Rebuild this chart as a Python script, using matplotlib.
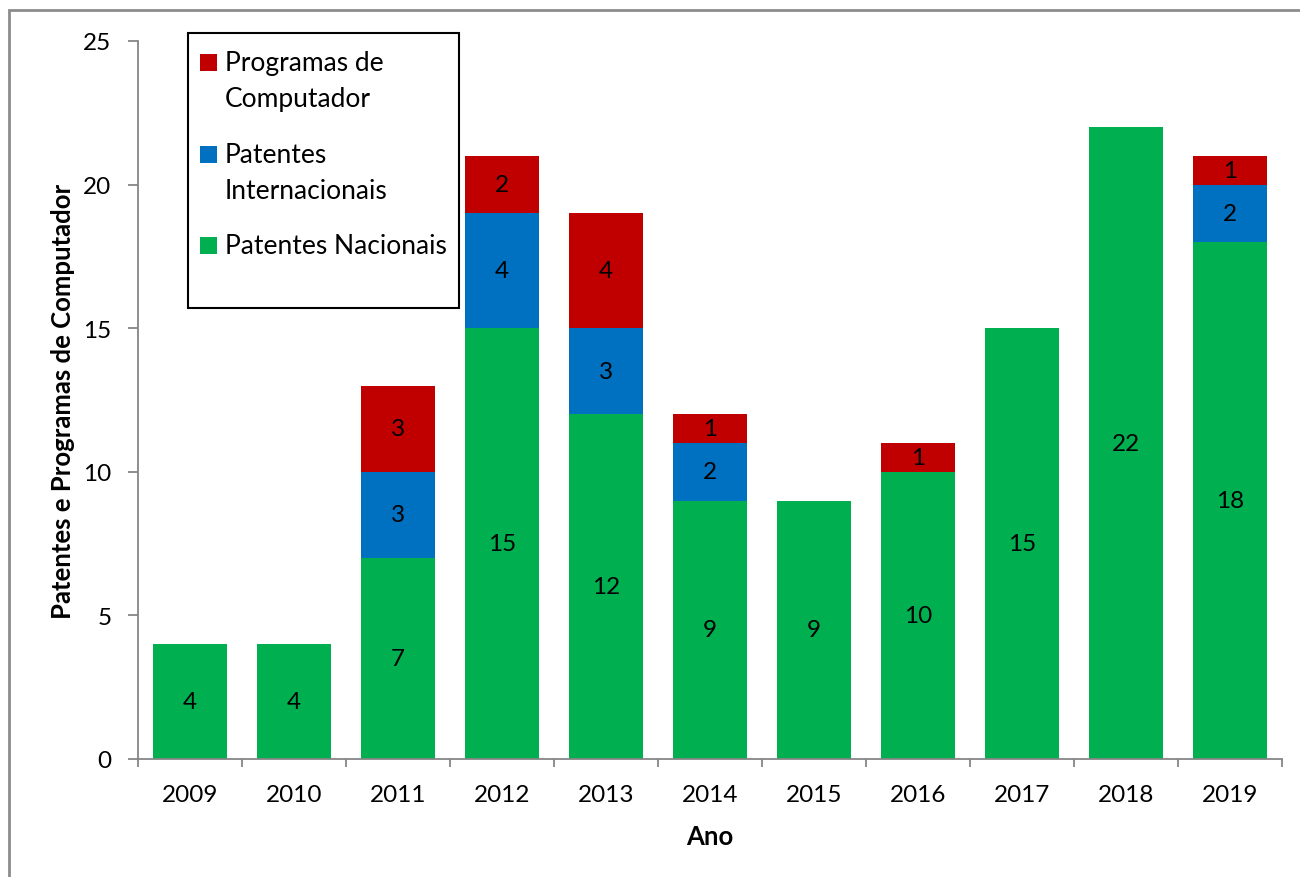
import matplotlib
matplotlib.use("Agg")
import matplotlib.pyplot as plt
from matplotlib.patches import Rectangle
import numpy as np

plt.rcParams['font.family'] = ['Lato', 'DejaVu Sans']

anos = ['2009', '2010', '2011', '2012', '2013', '2014', '2015', '2016', '2017', '2018', '2019']
nacionais = [4, 4, 7, 15, 12, 9, 9, 10, 15, 22, 18]
internacionais = [0, 0, 3, 4, 3, 2, 0, 0, 0, 0, 2]
programas = [0, 0, 3, 2, 4, 1, 0, 1, 0, 0, 1]

series = [
    ('Patentes Nacionais', nacionais, '#00B050'),
    ('Patentes\nInternacionais', internacionais, '#0070C0'),
    ('Programas de\nComputador', programas, '#C00000'),
]

W, H = 1300, 878
fig = plt.figure(figsize=(13, 8.78), dpi=100)
ax = fig.add_axes([138 / W, 1 - 760 / H, 1144 / W, 718 / H])

x = np.arange(len(anos))
bottom = np.zeros(len(anos))
for nome, vals, cor in series:
    vals = np.array(vals, dtype=float)
    ax.bar(x, vals, width=0.72, bottom=bottom, color=cor, linewidth=0)
    for xi, b, v in zip(x, bottom, vals):
        if v > 0:
            ax.text(xi, b + v / 2, f'{int(v)}', ha='center', va='center',
                    fontsize=17.5, color='black')
    bottom += vals

gray = '#868686'
ax.set_xlim(-0.5, len(anos) - 0.5)
ax.set_ylim(0, 25)
ax.set_yticks([0, 5, 10, 15, 20, 25])
ax.set_xticks(x)
ax.set_xticklabels(anos)
ax.set_xticks(np.arange(-0.5, len(anos)), minor=True)
ax.tick_params(axis='x', which='major', length=0, pad=18, labelsize=17.5)
ax.tick_params(axis='x', which='minor', length=6, width=1.3, color=gray, direction='out')
ax.tick_params(axis='y', length=7, width=1.3, color=gray, pad=12, labelsize=17.5)
for s in ['top', 'right']:
    ax.spines[s].set_visible(False)
for s in ['left', 'bottom']:
    ax.spines[s].set_color(gray)
    ax.spines[s].set_linewidth(1.3)

ax.set_ylabel('Patentes e Programas de Computador', fontsize=18.5, fontweight='bold', labelpad=6)
ax.set_xlabel('Ano', fontsize=18.5, fontweight='bold', labelpad=14)

# legend drawn by hand so the swatch sits on the first text line
def fx(px):
    return px / W

def fy(py):
    return 1 - py / H

fig.patches.append(Rectangle((fx(188), fy(309)), fx(459) - fx(188), fy(34) - fy(309),
                             transform=fig.transFigure, fill=False,
                             edgecolor='black', linewidth=1.5))
leg_y = [63, 155, 246]
for (nome, vals, cor), py in zip(series[::-1], leg_y):
    fig.patches.append(Rectangle((fx(200), fy(py + 8.5)), fx(17), 17 / H,
                                 transform=fig.transFigure, color=cor, linewidth=0))
    fig.text(fx(225), fy(py - 12), nome, ha='left', va='top', fontsize=19,
             linespacing=1.55)

# outer border of the chart area
fig.patches.append(Rectangle((fx(9), -0.05), 1.2, fy(11) + 0.05,
                             transform=fig.transFigure, fill=False,
                             edgecolor='#8C8C8C', linewidth=2))

fig.savefig('out.png', dpi=100)
